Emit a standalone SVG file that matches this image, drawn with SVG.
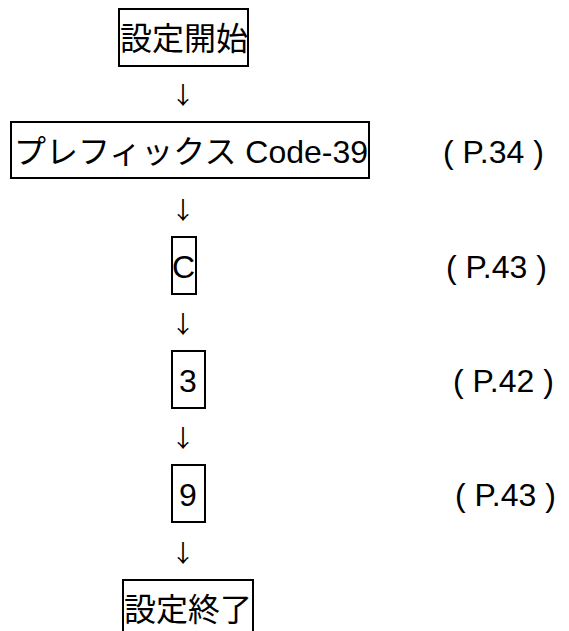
<svg xmlns="http://www.w3.org/2000/svg" width="569" height="631" viewBox="0 0 569 631">
<style>
.box{fill:#fff;stroke:#000;stroke-width:2}
.t{font-family:"Liberation Sans","Noto Sans CJK JP",sans-serif;font-size:32px;fill:#000}
.j{font-family:"Noto Sans CJK JP","Liberation Sans",sans-serif;font-size:32px;fill:#000}
.a{font-family:"Noto Sans CJK JP","DejaVu Sans",sans-serif;font-size:24px;fill:#000;text-anchor:middle}
</style>
<rect width="569" height="631" fill="#fff"/>
<g id="connectors">
<text class="a" x="183" y="104">↓</text>
<text class="a" x="183" y="219">↓</text>
<text class="a" x="183" y="333">↓</text>
<text class="a" x="183" y="447">↓</text>
<text class="a" x="183" y="562">↓</text>
</g>
<g id="start">
<rect class="box" x="119" y="9" width="129" height="57"/>
<text class="j" x="120" y="50">設定開始</text>
</g>
<g id="prefix">
<rect class="box" x="11" y="122" width="358" height="56"/>
<text x="14" y="163"><tspan class="j">プレフィックス</tspan><tspan class="t"> Code-39</tspan></text>
<text class="t" x="443" y="163">( P.34 )</text>
</g>
<g id="c">
<rect class="box" x="172" y="237" width="24" height="57"/>
<text class="t" x="172" y="278">C</text>
<text class="t" x="446" y="278">( P.43 )</text>
</g>
<g id="n3">
<rect class="box" x="172" y="351" width="33" height="57"/>
<text class="t" x="179" y="392">3</text>
<text class="t" x="453" y="392">( P.42 )</text>
</g>
<g id="n9">
<rect class="box" x="172" y="465" width="33" height="57"/>
<text class="t" x="179" y="506">9</text>
<text class="t" x="455" y="506">( P.43 )</text>
</g>
<g id="end">
<rect class="box" x="123" y="580" width="130" height="60"/>
<text class="j" x="124" y="621">設定終了</text>
</g>
</svg>
